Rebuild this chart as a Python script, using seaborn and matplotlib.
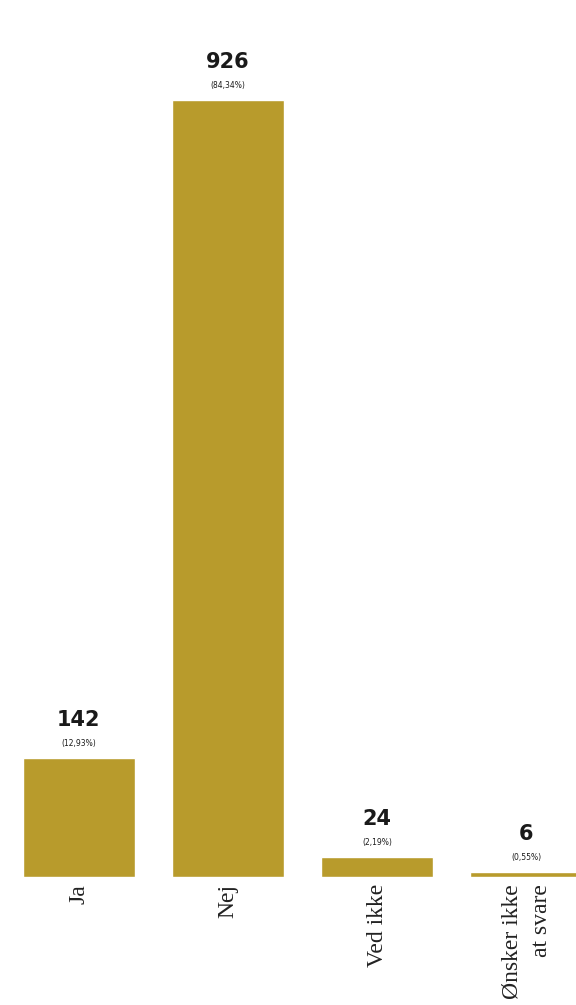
import matplotlib
matplotlib.use("Agg")
import matplotlib.pyplot as plt
import pandas as pd
import seaborn as sns

# Survey answers and counts
categories = ["Ja", "Nej", "Ved ikke", "Ønsker ikke\nat svare"]
counts = [142, 926, 24, 6]

bar_color = "#B89B2C"

sns.set_style("white")

df = pd.DataFrame({"svar": categories, "antal": counts})
total = sum(counts)

fig = plt.figure(figsize=(5.76, 10.05), dpi=100)
ax = fig.add_axes([0, 128 / 1005, 1, 877 / 1005])

sns.barplot(data=df, x="svar", y="antal", color=bar_color, width=0.75,
            saturation=1, ax=ax)

ax.set_xlim(-0.526, 3.332)
ax.set_ylim(0, 1045)

# value labels above each bar
for i, c in enumerate(counts):
    pct = f"({c / total * 100:.2f}%)".replace(".", ",")
    ax.annotate(str(c), (i, c), xytext=(0, 38), textcoords="offset pixels",
                ha="center", va="center", fontsize=15, fontweight="bold",
                family="DejaVu Sans", color="#1a1a1a")
    ax.annotate(pct, (i, c), xytext=(0, 14), textcoords="offset pixels",
                ha="center", va="center", fontsize=5.5,
                family="DejaVu Sans", color="#1a1a1a")

ax.set_xlabel("")
ax.set_ylabel("")
ax.set_yticks([])
ax.tick_params(axis="x", length=0, pad=5)
ax.set_xticks(range(len(categories)))
ax.set_xticklabels(categories, rotation=90, family="Liberation Serif",
                   fontsize=17, color="#222222", multialignment="right",
                   linespacing=1.55)
sns.despine(ax=ax, left=True, bottom=True)

fig.savefig("out.png", dpi=100)
